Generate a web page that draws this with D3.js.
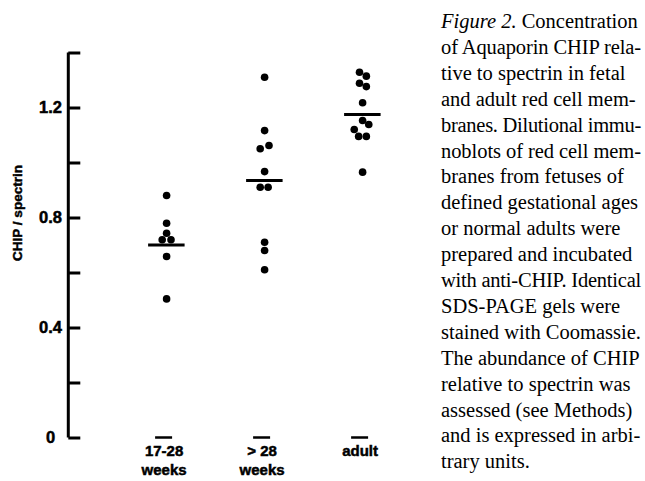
<!DOCTYPE html>
<html><head><meta charset="utf-8">
<script src="https://cdn.jsdelivr.net/npm/d3@7"></script>
<style>
html,body{margin:0;padding:0;background:#fff;}
svg{display:block;}
</style></head>
<body>
<script>
// ---- data ----
const categories = ["17-28 weeks", "> 28 weeks", "adult"];
const categoryLabelLines = [["17-28", "weeks"], ["> 28", "weeks"], ["adult"]];
const valuesEarly = [0.880, 0.779, 0.743, 0.719, 0.719, 0.658, 0.504];
const jitterEarly = [0, 0, 0, -1, 1, 0, 0];
const valuesLate = [1.310, 1.116, 1.062, 1.050, 0.967, 0.910, 0.910, 0.710, 0.680, 0.610];
const jitterLate = [0, 0, 1, -1, 0, -1, 0.8, 0, 0, 0];
const valuesAdult = [1.328, 1.314, 1.288, 1.276, 1.217, 1.153, 1.138, 1.120, 1.095, 1.095, 0.965];
const jitterAdult = [-0.7, 0.85, -0.7, 0.85, 0, 0, 1.4, -1.9, -0.9, 0.85, 0];
const groupMeans = [0.700, 0.935, 1.175];
const yTicks = [0, 0.2, 0.4, 0.6, 0.8, 1.0, 1.2, 1.4];
const yTickLabels = {0: "0", 0.4: "0.4", 0.8: "0.8", 1.2: "1.2"};
const yTitle = "CHIP / spectrin";
const captionItalic = "Figure 2.";
const captionLines = [
  " Concentration",
  "of Aquaporin CHIP rela-",
  "tive to spectrin in fetal",
  "and adult red cell mem-",
  "branes. Dilutional immu-",
  "noblots of red cell mem-",
  "branes from fetuses of",
  "defined gestational ages",
  "or normal adults were",
  "prepared and incubated",
  "with anti-CHIP. Identical",
  "SDS-PAGE gels were",
  "stained with Coomassie.",
  "The abundance of CHIP",
  "relative to spectrin was",
  "assessed (see Methods)",
  "and is expressed in arbi-",
  "trary units."
];

const groups = [
  {values: valuesEarly, jitter: jitterEarly},
  {values: valuesLate, jitter: jitterLate},
  {values: valuesAdult, jitter: jitterAdult}
];

// ---- drawing ----
const W = 645, H = 481;
const svg = d3.select("body").append("svg").attr("width", W).attr("height", H);
const sans = "'Liberation Sans', Arial, Helvetica, sans-serif";
const serif = "'Liberation Serif', 'Times New Roman', Times, serif";

const axisX = 68.3;
const y = d3.scaleLinear().domain([0, 1.4]).range([437.5, 52.5]);
const x = d3.scalePoint().domain(categories).range([166.6, 362.6]);
const jitterPx = 4.4;

// y axis via d3.axisRight (ticks pointing inward)
const axisG = svg.append("g").attr("transform", `translate(${axisX},0)`)
  .call(d3.axisRight(y).tickValues(yTicks).tickSize(12).tickSizeOuter(0).tickFormat(""));
axisG.select(".domain").attr("stroke", "#000").attr("stroke-width", 3).attr("d", `M0,${y(1.4)}V${y(0)}`);
axisG.selectAll(".tick line").attr("stroke", "#000").attr("stroke-width", 3);

// tick labels centred at a column left of the axis
svg.append("g").selectAll("text").data(yTicks.filter(t => yTickLabels[t] !== undefined))
  .join("text")
  .attr("x", 50.5).attr("y", d => y(d)).attr("dy", "0.36em")
  .attr("text-anchor", "middle")
  .attr("font-family", sans).attr("font-weight", "bold").attr("font-size", 16.5)
  .attr("fill", "#000").attr("stroke", "#000").attr("stroke-width", 0.5)
  .text(d => yTickLabels[d]);

// y title
svg.append("text")
  .attr("transform", `translate(21.5,${(y(0.8) + y(0.6)) / 2 - 32}) rotate(-90)`)
  .attr("text-anchor", "middle")
  .attr("font-family", sans).attr("font-weight", "bold").attr("font-size", 13.5)
  .attr("fill", "#000").attr("stroke", "#000").attr("stroke-width", 0.45)
  .text(yTitle);

// dots
groups.forEach((g, gi) => {
  svg.append("g").selectAll("circle").data(g.values)
    .join("circle")
    .attr("cx", (d, i) => x(categories[gi]) + g.jitter[i] * jitterPx)
    .attr("cy", d => y(d))
    .attr("r", 3.8)
    .attr("fill", "#000");
});

// mean lines
svg.append("g").selectAll("line").data(groupMeans)
  .join("line")
  .attr("x1", (d, i) => x(categories[i]) - 18.5)
  .attr("x2", (d, i) => x(categories[i]) + 18)
  .attr("y1", d => y(d)).attr("y2", d => y(d))
  .attr("stroke", "#000").attr("stroke-width", 3);

// short category markers on the zero line
svg.append("g").selectAll("line").data(categories)
  .join("line")
  .attr("x1", d => x(d) - 11.5).attr("x2", d => x(d) + 5.5)
  .attr("y1", y(0)).attr("y2", y(0))
  .attr("stroke", "#000").attr("stroke-width", 2.5);

// category labels
const catG = svg.append("g");
categories.forEach((c, i) => {
  const t = catG.append("text")
    .attr("text-anchor", "middle")
    .attr("font-family", sans).attr("font-weight", "bold").attr("font-size", 15)
    .attr("fill", "#000").attr("stroke", "#000").attr("stroke-width", 0.5);
  categoryLabelLines[i].forEach((ln, k) => {
    t.append("tspan").attr("x", x(c) - 2.5).attr("y", 456 + k * 18.5).text(ln);
  });
});

// caption: lines that run too long are tightened with letter-spacing to fit the column
const colX = 441, colW = 200;
const cap = svg.append("g").attr("font-family", serif).attr("font-size", 20.5).attr("fill", "#000");
captionLines.forEach((ln, i) => {
  const t = cap.append("text").attr("x", colX).attr("y", 28 + i * 25.9);
  if (i === 0) {
    t.append("tspan").attr("font-style", "italic").text(captionItalic);
  }
  t.append("tspan").text(ln);
  const w = t.node().getComputedTextLength();
  if (w > colW) {
    const n = (i === 0 ? captionItalic.length : 0) + ln.length;
    t.style("letter-spacing", ((colW - w) / n).toFixed(3) + "px");
  }
});
</script>
</body></html>
